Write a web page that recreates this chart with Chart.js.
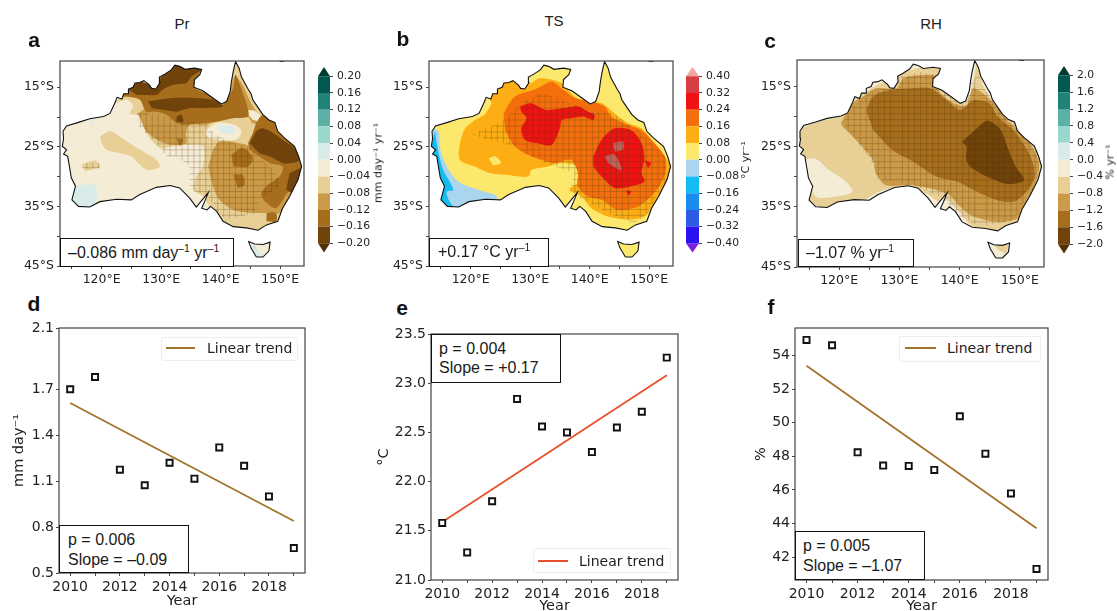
<!DOCTYPE html>
<html lang="en">
<head>
<meta charset="UTF-8">
<title>Australia trends</title>
<script src="https://cdn.jsdelivr.net/npm/chart.js"></script>
<style>
    html, body { margin: 0; padding: 0; background: #fff; }
    #fig { position: relative; width: 1117px; height: 611px; overflow: hidden; }
    #fig canvas { position: absolute; }
    .txt { position: absolute; white-space: nowrap; color: #1a1a1a; font-family: "Liberation Sans", sans-serif; line-height: 1; }
    .panel { font-size: 21px; font-weight: bold; color: #111; transform: translate(-50%, -50%); }
    .title { font-size: 15px; color: #222; transform: translate(-50%, -50%); }
    .box { position: absolute; box-sizing: border-box; border: 1.5px solid #111; background: #fff; }
    .note { font-size: 16px; transform: translateY(-50%); }
    .note sup { font-size: .65em; line-height: 0; vertical-align: .55em; }
    .cbtitle { font-family: "DejaVu Sans", sans-serif; font-size: 11px; color: #222; transform: translate(-50%, -50%) rotate(-90deg); }
    .legend { position: absolute; box-sizing: border-box; border: 1px solid #eee; background: #fff; border-radius: 2px; }
    .legline { position: absolute; height: 1.5px; }
    .legtxt { font-family: "DejaVu Sans", sans-serif; font-size: 14px; color: #222; transform: translateY(-50%); }
</style>
</head>
<body>
<div id="fig"></div>
<script>
    // ---- data: years and scatter values
    const years = [2010, 2011, 2012, 2013, 2014, 2015, 2016, 2017, 2018, 2019];
    const trendYears = [2010, 2019];
    const prSeries = [1.70, 1.78, 1.175, 1.073, 1.22, 1.116, 1.32, 1.20, 1.00, 0.663];
    const prTrend = [1.61, 0.84];
    const tsSeries = [21.58, 21.28, 21.80, 22.84, 22.56, 22.50, 22.30, 22.55, 22.71, 23.26];
    const tsTrend = [21.59, 23.08];
    const rhSeries = [54.94, 54.62, 48.24, 47.45, 47.43, 47.19, 50.39, 48.16, 45.79, 41.29];
    const rhTrend = [53.4, 43.72];

    const yearTicks = [2010, 2011, 2012, 2013, 2014, 2015, 2016, 2017, 2018, 2019];
    const yearLabels = ['2010', '', '2012', '', '2014', '', '2016', '', '2018', ''];
    const prTicks = [0.5, 0.8, 1.1, 1.4, 1.7, 2.1];
    const prTickLabels = ['0.5', '0.8', '1.1', '1.4', '1.7', '2.1'];
    const tsTicks = [21, 21.5, 22, 22.5, 23, 23.5];
    const tsTickLabels = ['21.0', '21.5', '22.0', '22.5', '23.0', '23.5'];
    const rhTicks = [42, 44, 46, 48, 50, 52, 54];
    const rhTickLabels = ['42', '44', '46', '48', '50', '52', '54'];

    const lonTicks = [115, 120, 125, 130, 135, 140, 145, 150];
    const lonLabels = ['', '120°E', '', '130°E', '', '140°E', '', '150°E'];
    const latTicks = [-45, -40, -35, -30, -25, -20, -15];
    const latLabels = ['45°S', '', '35°S', '', '25°S', '', '15°S'];

    // colour bar levels
    const prLevels = [-0.20, -0.16, -0.12, -0.08, -0.04, 0, 0.04, 0.08, 0.12, 0.16, 0.20];
    const prLevelLabels = ['−0.20', '−0.16', '−0.12', '−0.08', '−0.04', '0.00', '0.04', '0.08', '0.12', '0.16', '0.20'];
    const tsLevels = [-0.40, -0.32, -0.24, -0.16, -0.08, 0, 0.08, 0.16, 0.24, 0.32, 0.40];
    const tsLevelLabels = ['−0.40', '−0.32', '−0.24', '−0.16', '−0.08', '0.00', '0.08', '0.16', '0.24', '0.32', '0.40'];
    const rhLevels = [-2.0, -1.6, -1.2, -0.8, -0.4, 0, 0.4, 0.8, 1.2, 1.6, 2.0];
    const rhLevelLabels = ['−2.0', '−1.6', '−1.2', '−0.8', '−0.4', '0.0', '0.4', '0.8', '1.2', '1.6', '2.0'];

    const brbg = ['#6f4309', '#a66d1c', '#cb9a48', '#e7cf96', '#f5ecd6', '#d9ece9', '#9ad7cc', '#5bb1a6', '#1f8377', '#01594f'];
    const brbgEnds = ['#543005', '#003c30'];
    const jet = ['#2a12f2', '#2c5be6', '#1a8cf0', '#14bcf4', '#a9d5ee', '#fbe86c', '#fdae14', '#f46f0c', '#ee1212', '#d83c44'];
    const jetEnds = ['#7a20e0', '#f2a5a5'];

    // ---- map outlines [lon, lat]
    const coast = [[113.5,-22.4],[114.1,-21.5],[116.1,-20.9],[118,-20.3],[120.3,-19.9],[121.4,-19.4],[122.2,-17.7],[122.6,-16.7],[123.4,-17],[123.7,-16.1],[124.5,-16.1],[124.5,-15.3],[125.3,-15],[125.6,-14.3],[126.4,-14.2],[127.1,-13.9],[128,-14.6],[128.4,-15.2],[129.1,-15.3],[129.8,-14.2],[129.7,-13.3],[130.6,-12.8],[131.7,-12.1],[132.3,-11.3],[133.1,-11.5],[134,-12],[135.6,-11.8],[136.8,-12],[136.5,-12.9],[135.6,-13.7],[135.5,-15],[137,-15.6],[138.7,-16.8],[140.1,-17.8],[141,-17.4],[141.6,-15.7],[141.8,-14.1],[142.1,-12.4],[142.5,-10.7],[143.1,-11.8],[143.5,-13.3],[144,-14.2],[144.6,-15.3],[145.1,-16.1],[145.4,-17.1],[146,-18],[147.1,-19.6],[148.1,-20.5],[149.1,-20.9],[149.6,-22.4],[150.7,-23.5],[152.4,-24.9],[153.1,-26.6],[153.6,-28.3],[153,-30.5],[151.6,-33.3],[150.4,-35.3],[149.6,-37.5],[147.7,-38.1],[146.3,-39],[144.3,-38.6],[142.1,-38.4],[140.4,-37.5],[139.3,-35.8],[138.3,-35],[137.7,-35.6],[136.8,-35.3],[137.3,-34.2],[137.9,-32.7],[136.9,-33.9],[135.9,-35.1],[134.8,-33.6],[133.1,-31.9],[131.5,-31.5],[129.2,-31.8],[126.4,-33],[125,-33.9],[122.5,-33.8],[119.7,-34.2],[118,-35.1],[116.1,-35],[115,-33.9],[115.6,-31.6],[114.9,-30.2],[114.3,-26.6],[113.6,-26.2],[114.1,-25.5],[113.4,-24.9],[113.6,-23.6]];
    const tasmania = [[146,-43.5],[145.1,-42],[144.7,-40.9],[145.7,-41.3],[147.1,-41.4],[148.3,-41],[148.1,-42.5],[147.1,-43.5]];
    const islandNorth = [[149.9,-10.65],[150.7,-10.65]];

    // ---- Pr contours
    const prTan = [
        [[122.2,-17.7],[124.2,-17.1],[125.3,-18.2],[124.7,-19.4],[126.4,-19.9],[127.5,-22.7],[129.8,-25.2],[132,-24.9],[134.8,-24.7],[137,-24.9],[137,-28.3],[135.9,-30],[135.4,-32.2],[137,-33.3],[138.7,-36.1],[140.1,-38.4],[143.2,-39.5],[146.5,-39.5],[149.9,-38.4],[152.4,-33.9],[154,-28.3],[153.2,-25.5],[152.1,-23.8],[149.3,-21],[147.1,-19.1],[144.6,-15.2],[142.6,-10.6],[141.5,-14.9],[140.4,-17.1],[137.6,-15.4],[135.4,-14.3],[135.9,-11.5],[132.3,-10.7],[129.8,-13.2],[128.9,-14.6],[125.9,-13.8],[123.6,-16]],
        [[119.7,-23.3],[121.4,-22.4],[123.1,-23.3],[124.7,-24.4],[127,-25.8],[129.2,-27.2],[129.8,-28.3],[127.8,-28.9],[126.1,-27.7],[125,-26.6],[123.1,-26.1],[120.8,-25.5],[120,-24.4]],
        [[116.6,-28],[118.9,-27.3],[119.7,-28.3],[117.3,-29.1]]
    ];
    const prMid = [
        [[138.7,-25.5],[139.8,-24.1],[143.2,-24.4],[144.9,-24.9],[147.1,-26.6],[149.3,-27.9],[152.7,-26.6],[154,-28.3],[152.1,-33.3],[149.9,-36.1],[147.7,-36.1],[145.4,-36.1],[142.1,-35.6],[139.8,-33.9],[138.7,-31.6],[137.9,-28.3]],
        [[126.1,-19.4],[128.1,-18.2],[132.6,-17.7],[137.6,-17.1],[140.1,-18.8],[140.9,-19.6],[139.3,-20.5],[137.6,-21.3],[134.8,-21.3],[134.2,-22.7],[134.2,-24.4],[132,-24.7],[129.8,-24.1],[127.5,-22.4],[126.7,-20.8]],
        [[141.5,-16.6],[142.3,-13.2],[143.5,-14.3],[145.4,-18.2],[147.7,-21.3],[145.4,-21],[144.3,-19.6],[140.9,-19.6],[140.1,-18.8]]
    ];
    const prPale = [
        [[137.3,-22.4],[139.3,-21],[142.3,-21.3],[143.5,-22.4],[142.6,-23.8],[139.8,-23.8],[137.9,-23.5]],
        [[144,-18.8],[146,-19.1],[147.4,-20.8],[145.4,-20.5]]
    ];
    const prBlue = [
        [[139.6,-21.5],[142.1,-21.6],[142.1,-22.7],[139.8,-22.7]],
        [[115.5,-31.6],[118.9,-31.4],[118.9,-34.4],[116.4,-35.3],[114.7,-34.2]],
        [[117.8,-20.8],[118.6,-20.8],[118.3,-21.5]],
        [[145.1,-41.1],[146.5,-42.8],[147.4,-43.4],[146,-43.4],[145.1,-42]]
    ];
    const prTeal = [[[145.4,-41.4],[146.3,-42.5],[145.7,-42]]];
    const prBrown = [
        [[123.1,-16.6],[125.3,-14.9],[127.5,-14.6],[129.2,-15.2],[129.8,-13.5],[132.6,-11.3],[136.8,-11.5],[135.6,-14.9],[138.2,-16.3],[140.1,-18],[140.9,-17.1],[142.1,-15.2],[142.5,-12.9],[143.5,-15.4],[144.4,-18],[144.6,-19.9],[142.1,-20.2],[139.3,-20.8],[137,-21],[134.2,-21.3],[132.6,-21],[130.9,-19.6],[129.2,-19.1],[127.5,-19.1],[126.4,-17.1],[124.5,-16.6]],
        [[144.6,-24.4],[145.4,-22.7],[146,-21],[147.1,-19.6],[149.1,-20.8],[152.1,-24.4],[154,-28.3],[152.7,-30.8],[151,-33],[149.3,-35.3],[147.7,-34.4],[146.8,-33],[147.7,-31.6],[149.9,-30],[150.4,-28.3],[148.2,-27.7],[146.5,-26.6],[144.9,-25.5]],
        [[141.8,-26.3],[143.7,-25.2],[145.4,-26.9],[144.6,-28.3],[142.1,-28.3]],
        [[142.1,-29.7],[143.7,-29.7],[144,-31.4],[142.9,-31.9]],
        [[132.6,-23.5],[133.7,-23.8],[133.1,-24.9]],
        [[147.7,-36.1],[149.3,-36.1],[149.3,-37.5],[147.7,-37.5]]
    ];
    const prDark = [
        [[124.5,-15.4],[126.4,-14.1],[129.2,-14.9],[129.8,-13.5],[132.3,-11],[137,-11.8],[135.1,-13.2],[134.2,-14.3],[132,-14.6],[130.3,-15.4],[129.2,-16.3],[127.5,-16.3],[125.9,-16.3]],
        [[127.8,-17.4],[132,-16.8],[138.7,-17.1],[140.4,-18.2],[137.6,-18.5],[134.8,-18.5],[132.6,-19.1],[130.3,-18.8],[128.4,-18.5]],
        [[144.9,-24.4],[146,-22.4],[147.1,-21.9],[148.8,-22.7],[150.4,-23.8],[152.4,-25.2],[153.2,-27.2],[152.1,-27.7],[150.4,-27.7],[148.2,-26.6],[146.5,-26.1]],
        [[151.6,-29.4],[153.8,-28.6],[152.4,-32.8],[151,-32.2]],
        [[132.6,-19.9],[133.4,-19.6],[133.7,-20.8],[132.6,-20.8]]
    ];
    const prHatch = [
        [[125.9,-19.4],[129.8,-19.6],[132.6,-20.5],[137.6,-21],[138.7,-22.7],[142.1,-24.4],[144.3,-24.9],[146.5,-26.6],[149.3,-29.4],[149.9,-31.6],[148.2,-32.8],[146.5,-33.9],[146,-36.1],[143.2,-36.7],[140.9,-37.2],[139.3,-35.6],[137.9,-33.3],[134.8,-32.2],[134.8,-28.3],[132.6,-26.6],[130.9,-26.6],[129.2,-24.4],[126.4,-21.6]],
        [[116.6,-27.7],[119.7,-27.7],[119.7,-28.6],[116.6,-28.6]]
    ];

    // ---- TS contours
    const tsSky = [[[113.7,-21.9],[114.6,-22.4],[114.9,-25.5],[116,-28.3],[117.9,-30.8],[121.3,-32.2],[124.4,-33.3],[123.5,-34.7],[118.5,-36.1],[114.6,-35],[113,-25.5]]];
    const tsBlue = [[[114,-22.4],[114.5,-25.5],[115.4,-28.9],[117.1,-32.2],[116,-32.5],[116.3,-33.9],[117.1,-35.3],[114.6,-34.7],[113.2,-25.5]]];
    const tsAmber = [[[122.4,-19.6],[123.5,-17.7],[123.2,-16.8],[125.2,-14.1],[126.9,-13.8],[128.5,-14.9],[130.2,-14.3],[131.6,-13.5],[135.3,-14.3],[137.5,-16.6],[139.7,-17.4],[142,-17.7],[144.2,-19.4],[146.4,-21],[148.7,-21.9],[150.9,-24.4],[152.6,-26.6],[154,-28.9],[152.6,-31.6],[151.5,-33.9],[149.2,-36.7],[146.4,-37.2],[143.1,-36.7],[140.3,-35.3],[138.6,-33.3],[136.6,-32.2],[138.6,-30.5],[138,-28.3],[135.3,-27.7],[133,-28.3],[130.2,-28.9],[129.7,-30],[125.8,-29.7],[123.2,-29.4],[120.7,-28.3],[118.2,-27.2],[118.2,-24.4],[119.1,-21.9],[120.7,-20.5]]];
    const tsYellowSpots = [
        [[123,-26.9],[124.1,-26.6],[125.1,-27.7],[123.8,-28.1]],
        [[139.4,-22.2],[140.3,-22.4],[140,-23.4],[139.4,-23]]
    ];
    const tsOrange = [[[125.5,-19.4],[127.4,-16.6],[130.8,-15.4],[133.6,-14.1],[135.5,-15.4],[137.5,-16.8],[140.3,-17.4],[142.5,-18.2],[143.6,-19.9],[146.4,-21.3],[148.7,-22.2],[150.9,-24.4],[152.6,-26.6],[152.8,-28.9],[152,-31.1],[150.3,-33.3],[148.1,-35],[144.7,-35.6],[142,-33.9],[139.7,-33.3],[138,-31.6],[138,-29.4],[136.9,-27.2],[134.1,-27.7],[130.2,-26.6],[127.4,-24.9],[125.8,-22.2]]];
    const tsRed = [
        [[128.3,-18.2],[130.2,-17.7],[132.5,-18.8],[135.8,-18.5],[138,-18.2],[139.7,-19.1],[140.8,-19.6],[140.6,-20.5],[138.9,-19.9],[136.9,-20.2],[135.3,-20.5],[135,-21.9],[133.6,-24.7],[131.3,-24.4],[129.1,-23.8],[128.5,-21.9],[129.4,-20.2],[128.5,-19.1]],
        [[140.6,-26.6],[142,-23.8],[144.2,-21.9],[147,-22.2],[148.7,-24.4],[149.2,-26.9],[148.7,-29.4],[149.2,-30.8],[147,-31.6],[144.2,-31.9],[142,-30],[140.6,-28.3]],
        [[149.2,-27.2],[150.3,-27.7],[149.8,-28.6]],
        [[146.1,-32.3],[147,-32.5],[146.5,-33.2]]
    ];
    const tsHot = [
        [[143.9,-24.4],[145.6,-24.1],[145.6,-25.5],[144.2,-25.8]],
        [[142.5,-26.6],[144.2,-26.3],[145.3,-28.9],[143.1,-27.7]]
    ];
    const tsHatch = [[[120.2,-23],[125.2,-20.8],[128.5,-17.7],[131.9,-16],[135.3,-17.1],[139.7,-18.8],[144.2,-19.6],[148.7,-22.7],[152.6,-26.6],[153.1,-30],[150.9,-33.9],[149.2,-36.7],[147.5,-37.8],[143.1,-36.1],[138,-33.3],[136.9,-31.6],[137.5,-29.4],[134.1,-28.3],[130.2,-26.6],[127.4,-24.9],[123,-23.8]]];

    // ---- RH contours
    const rhTan = [
        [[113.3,-23.9],[113.9,-22],[116.6,-20.9],[120.6,-19.8],[122.5,-17.3],[123.9,-16.2],[127.3,-14.2],[130.1,-13.1],[132.8,-12],[136.8,-12.3],[136.2,-14.5],[139,-16.7],[141.2,-17.3],[142.3,-14],[142.9,-11.2],[144,-15.1],[146.3,-18.4],[150.2,-22.2],[153.5,-27.2],[153,-30.6],[151.3,-33.9],[150.2,-37.2],[146.8,-38.9],[142.3,-38.3],[139.6,-35.5],[137.9,-33.9],[136.8,-34.4],[134.5,-32.8],[131.7,-31.7],[127.3,-32.2],[123.9,-33.9],[120,-34.4],[117.2,-35.3],[115,-33.9],[114.1,-28.3]],
        [[145.7,-41.3],[147.9,-41.3],[147.7,-42.7],[146.5,-42.2]]
    ];
    const rhPale = [[[114.1,-27.2],[116.1,-27],[118.3,-28.9],[121.1,-30.8],[122.2,-32.5],[119.4,-33.3],[116.1,-33.3],[115,-30]]];
    const rhMid = [[[120.3,-21.1],[122.2,-17.8],[123.9,-16.7],[126.1,-15.3],[129.5,-15.3],[130.6,-13.7],[133.4,-13.1],[136.8,-13.4],[136.2,-15.3],[139,-17.8],[141.2,-18.1],[142.3,-15.3],[145.7,-17.8],[147.9,-20.6],[151.3,-23.9],[153.2,-27.8],[152.4,-31.7],[151.3,-33.9],[150.2,-36.6],[146.8,-37.5],[142.3,-36.6],[140.1,-35],[137.9,-32.8],[132.3,-31.4],[127.8,-31.4],[126.1,-29.4],[125.6,-27.2],[122.8,-23.9],[120.6,-21.7]]];
    const rhBrown = [[[124.5,-18.9],[125.6,-16.7],[128.4,-15.6],[132.3,-15.3],[135.1,-15.3],[137.9,-17.3],[140.1,-18.9],[142.3,-17.3],[144.9,-17.8],[146.3,-20],[149.1,-22.5],[151.8,-26.7],[152.4,-30],[151.3,-32.2],[149.1,-34.1],[146.3,-33.9],[142.3,-32.2],[139.6,-30.8],[136.2,-30],[132.3,-27.5],[128.9,-25.6],[125.6,-22.2]]];
    const rhDark = [[[140.4,-24.2],[142.3,-22.5],[144.6,-20.7],[146.8,-22.2],[147.9,-25],[149.3,-28.3],[150.7,-30.6],[147.9,-31.2],[144.6,-30],[142.1,-28.6],[141.1,-27.2],[141.2,-25]]];
    const rhHatch = [[[125.6,-30.3],[127.8,-30.6],[132.3,-31.4],[136.8,-33.3],[140.1,-36.6],[143.5,-38.3],[149.1,-37.2],[152.4,-30.6],[153.5,-27.2],[150.2,-22.2],[146.3,-18.4],[144,-15.1],[142.9,-12.6],[142.3,-14.2],[141.2,-17.3],[139,-16.7],[136.2,-14.5],[136.5,-13.1],[133.4,-12.6],[130.3,-13.4],[129.5,-15.3],[125.6,-15.6],[122.2,-18.4],[120.6,-21.1],[122.8,-23.9],[125.6,-27.8],[126.1,-29.4]]];

    const fig = document.getElementById('fig');
    const tickFont = { family: 'DejaVu Sans', size: 12.5 };
    const titleFont = { family: 'DejaVu Sans', size: 14.5 };
    const axisColor = '#444';

    function pts(list) { return list.map(p => ({ x: p[0], y: p[1] })); }

    function shape(list, color, tension) {
        return { data: pts(list), showLine: true, fill: 'shape', backgroundColor: color, borderColor: 'transparent', borderWidth: 0, pointRadius: 0, tension: tension || 0 };
    }
    function outline(list, color, width) {
        return { data: pts(list), showLine: true, fill: false, borderColor: color, borderWidth: width, pointRadius: 0, tension: 0 };
    }

    // grid hatching inside the significant area, one line per degree
    function crossings(poly, axis, v) {
        const out = [];
        poly.forEach((a, i) => {
            const b = poly[(i + 1) % poly.length];
            if ((a[axis] - v) * (b[axis] - v) < 0) {
                out.push(a[1 - axis] + (v - a[axis]) / (b[axis] - a[axis]) * (b[1 - axis] - a[1 - axis]));
            }
        });
        return out.sort((p, q) => p - q);
    }
    function hatchPoints(polys) {
        const out = [];
        polys.forEach(poly => {
            for (let lat = -44.5; lat < -10; lat++) {
                const c = crossings(poly, 1, lat);
                for (let i = 0; i + 1 < c.length; i += 2) out.push({ x: c[i], y: lat }, { x: c[i + 1], y: lat }, { x: null, y: null });
            }
            for (let lon = 113.5; lon < 154; lon++) {
                const c = crossings(poly, 0, lon);
                for (let i = 0; i + 1 < c.length; i += 2) out.push({ x: lon, y: c[i] }, { x: lon, y: c[i + 1] }, { x: null, y: null });
            }
        });
        return out;
    }

    // white sea over everything outside the coast, contours can overshoot
    function seaMask() {
        const w = 112.5, e = 154.5, s = -45.5, n = -10.1;
        const ring = [[w, s], [146, s]]
            .concat(tasmania, [[146, -43.5], [146, s], [e, s], [e, n], [w, n], [w, -22.4]])
            .concat(coast, [coast[0], [w, -22.4], [w, s]]);
        return shape(ring, '#fff');
    }

    function mapDatasets(base, layers, hatch, hatchColor) {
        const ds = [shape(coast, base), shape(tasmania, base)];
        layers.forEach(l => l[1].forEach(p => ds.push(shape(p, l[0], 0.3))));
        ds.push({ data: hatchPoints(hatch), showLine: true, fill: false, borderColor: hatchColor, borderWidth: 0.5, pointRadius: 0, spanGaps: false });
        ds.push(seaMask());
        ds.push(outline(coast.concat([coast[0]]), '#111', 1.1));
        ds.push(outline(tasmania.concat([tasmania[0]]), '#111', 1.1));
        ds.push(outline(islandNorth, '#111', 1.1));
        return ds.reverse();   // Chart.js paints the first dataset last
    }

    const framePlugin = {
        id: 'frame',
        afterDatasetsDraw(chart) {
            const a = chart.chartArea, c = chart.ctx;
            c.save();
            c.strokeStyle = axisColor;
            c.lineWidth = 1.2;
            c.strokeRect(a.left, a.top, a.right - a.left, a.bottom - a.top);
            c.restore();
        }
    };

    function axis(o) {
        return {
            type: 'linear',
            position: o.position,
            min: o.min,
            max: o.max,
            afterBuildTicks: s => { s.ticks = o.ticks.map(v => ({ value: v })); },
            afterFit: s => { if (o.position === 'bottom') s.height = o.size; else s.width = o.size; },
            title: o.title ? { display: true, text: o.title, font: titleFont, color: '#222', padding: 0 } : { display: false },
            ticks: {
                display: o.labels !== null,
                autoSkip: false, maxRotation: 0, minRotation: 0,
                font: o.font || tickFont, color: '#222', padding: o.pad === undefined ? 2 : o.pad,
                callback: v => (o.labels ? o.labels[o.ticks.indexOf(v)] : '')
            },
            grid: { drawOnChartArea: false, tickLength: 3, tickColor: axisColor },
            border: { display: false }
        };
    }

    // plot = [left, top, right, bottom] of the axes box, m = room around it
    function addChart(plot, m, datasets, xAxis, yAxis, frame) {
        const cv = document.createElement('canvas');
        const w = plot[2] - plot[0] + m.l + m.r, h = plot[3] - plot[1] + m.t + m.b;
        cv.width = w; cv.height = h;
        cv.style.cssText = `left:${plot[0] - m.l}px;top:${plot[1] - m.t}px;width:${w}px;height:${h}px`;
        fig.appendChild(cv);
        xAxis.size = m.b; yAxis.size = m[yAxis.position === 'left' ? 'l' : 'r'];
        return new Chart(cv, {
            type: 'scatter',
            data: { datasets: datasets },
            options: {
                responsive: false, animation: false,
                layout: { padding: { top: m.t, right: yAxis.position === 'left' ? m.r : 0, left: 0, bottom: 0 } },
                scales: { x: axis(xAxis), y: axis(yAxis) },
                plugins: { legend: { display: false }, tooltip: { enabled: false } }
            },
            plugins: frame ? [framePlugin] : []
        });
    }

    function addMap(plot, layers, base, hatch, hatchColor) {
        addChart(plot, { l: 45, t: 12, r: 22, b: 24 }, mapDatasets(base, layers, hatch, hatchColor),
            { position: 'bottom', min: 113, max: 154, ticks: lonTicks, labels: lonLabels, pad: 3 },
            { position: 'left', min: -45, max: -10.6, ticks: latTicks, labels: latLabels, pad: 3 }, true);
    }

    function addColorbar(plot, levels, labels, colors, ends) {
        const ext = (levels[10] - levels[0]) * 9.5 / 172;
        const ds = colors.map((c, i) => shape([[0, levels[i]], [1, levels[i]], [1, levels[i + 1]], [0, levels[i + 1]]], c));
        ds.push(shape([[0, levels[0]], [1, levels[0]], [0.5, levels[0] - ext]], ends[0]));
        ds.push(shape([[0, levels[10]], [1, levels[10]], [0.5, levels[10] + ext]], ends[1]));
        addChart(plot, { l: 2, t: 12, r: 42, b: 6 }, ds,
            { position: 'bottom', min: 0, max: 1, ticks: [], labels: null },
            { position: 'right', min: levels[0] - ext, max: levels[10] + ext, ticks: levels, labels: labels, pad: 4, font: { family: 'DejaVu Sans', size: 10.8 } }, false);
    }

    function addScatter(plot, left, series, trend, trendColor, ymin, ymax, ticks, labels, yTitle, bottom) {
        const ds = [
            { data: years.map((x, i) => ({ x, y: series[i] })), pointStyle: 'rect', pointRadius: 4.3, backgroundColor: '#fff', borderColor: '#111', borderWidth: 1.9, showLine: false },
            { data: trendYears.map((x, i) => ({ x, y: trend[i] })), showLine: true, borderColor: trendColor, borderWidth: 1.8, pointRadius: 0, fill: false }
        ];
        const font = { family: 'DejaVu Sans', size: 14 };
        addChart(plot, { l: left, t: 12, r: 22, b: bottom }, ds,
            { position: 'bottom', min: 2009.55, max: 2019.45, ticks: yearTicks, labels: yearLabels, title: 'Year', font: font, pad: 3 },
            { position: 'left', min: ymin, max: ymax, ticks: ticks, labels: labels, title: yTitle, font: font, pad: 2 }, true);
    }

    function text(cls, x, y, html) {
        const d = document.createElement('div');
        d.className = 'txt ' + cls;
        d.style.left = x + 'px';
        d.style.top = y + 'px';
        d.innerHTML = html;
        fig.appendChild(d);
    }
    function box(l, t, r, b) {
        const d = document.createElement('div');
        d.className = 'box';
        d.style.cssText = `left:${l}px;top:${t}px;width:${r - l}px;height:${b - t}px`;
        fig.appendChild(d);
    }
    function legend(l, t, r, b, lineL, lineR, lineY, color, textX) {
        const d = document.createElement('div');
        d.className = 'legend';
        d.style.cssText = `left:${l}px;top:${t}px;width:${r - l}px;height:${b - t}px`;
        fig.appendChild(d);
        const ln = document.createElement('div');
        ln.className = 'legline';
        ln.style.cssText = `left:${lineL}px;top:${lineY}px;width:${lineR - lineL}px;background:${color}`;
        fig.appendChild(ln);
        text('legtxt', textX, lineY + 1, 'Linear trend');
    }

    // ---- maps
    addMap([60, 61, 304, 266], [
        [brbg[3], prTan], [brbg[2], prMid], [brbg[4], prPale], [brbg[5], prBlue], [brbg[6], prTeal],
        [brbg[1], prBrown], [brbg[0], prDark]
    ], brbg[4], prHatch, 'rgba(80,50,10,.5)');
    addMap([429, 61, 673, 266], [
        [jet[4], tsSky], [jet[3], tsBlue], [jet[6], tsAmber], [jet[5], tsYellowSpots],
        [jet[7], tsOrange], [jet[8], tsRed], ['#c4605c', tsHot]
    ], jet[5], tsHatch, 'rgba(70,60,20,.5)');
    addMap([797, 60, 1044, 267], [
        [brbg[3], rhTan], [brbg[4], rhPale], [brbg[2], rhMid], [brbg[1], rhBrown], [brbg[0], rhDark]
    ], brbg[4], rhHatch, 'rgba(80,50,10,.5)');

    // ---- colour bars
    addColorbar([320, 67, 330, 257], prLevels, prLevelLabels, brbg, brbgEnds);
    addColorbar([688, 67, 699, 257], tsLevels, tsLevelLabels, jet, jetEnds);
    addColorbar([1060, 66, 1070, 258], rhLevels, rhLevelLabels, brbg, brbgEnds);

    // ---- time series
    addScatter([59, 328, 305, 573], 48, prSeries, prTrend, '#a5722c', 0.5, 2.1, prTicks, prTickLabels, 'mm day⁻¹', 37);
    addScatter([431, 334, 678, 580], 55, tsSeries, tsTrend, '#e8502a', 21, 23.5, tsTicks, tsTickLabels, '°C', 35);
    addScatter([795, 328, 1048, 580], 42, rhSeries, rhTrend, '#a5722c', 40.63, 55.65, rhTicks, rhTickLabels, '%', 35);

    // ---- titles and panel letters
    text('title', 182, 23, 'Pr');
    text('title', 554, 20, 'TS');
    text('title', 931, 23, 'RH');
    text('panel', 34, 39, 'a');
    text('panel', 403, 38, 'b');
    text('panel', 770, 40, 'c');
    text('panel', 34, 303, 'd');
    text('panel', 402, 307, 'e');
    text('panel', 771, 306, 'f');

    text('cbtitle', 378, 163, 'mm day⁻¹ yr⁻¹');
    text('cbtitle', 745, 160, '°C yr⁻¹');
    text('cbtitle', 1110, 162, '% yr⁻¹');

    // ---- annotation boxes
    box(60, 238, 234, 267);
    text('note', 68, 253, '–0.086 mm day<sup>–1</sup> yr<sup>–1</sup>');
    box(429, 238, 549, 267);
    text('note', 438, 252, '+0.17 °C yr<sup>–1</sup>');
    box(798, 239, 914, 267);
    text('note', 806, 253, '–1.07 % yr<sup>–1</sup>');

    box(59, 525, 189, 573);
    text('note', 68, 540, 'p = 0.006');
    text('note', 68, 560, 'Slope = –0.09');
    box(431, 334, 561, 383);
    text('note', 439, 349, 'p = 0.004');
    text('note', 439, 368, 'Slope = +0.17');
    box(795, 531, 925, 580);
    text('note', 803, 546, 'p = 0.005');
    text('note', 803, 566, 'Slope = –1.07');

    // ---- legends
    legend(161, 337, 298, 361, 166, 195, 347, '#a5722c', 207);
    legend(533, 548, 671, 573, 538, 568, 560, '#e8502a', 579);
    legend(899, 336, 1041, 362, 905, 936, 347, '#a5722c', 947);
</script>
</body>
</html>
